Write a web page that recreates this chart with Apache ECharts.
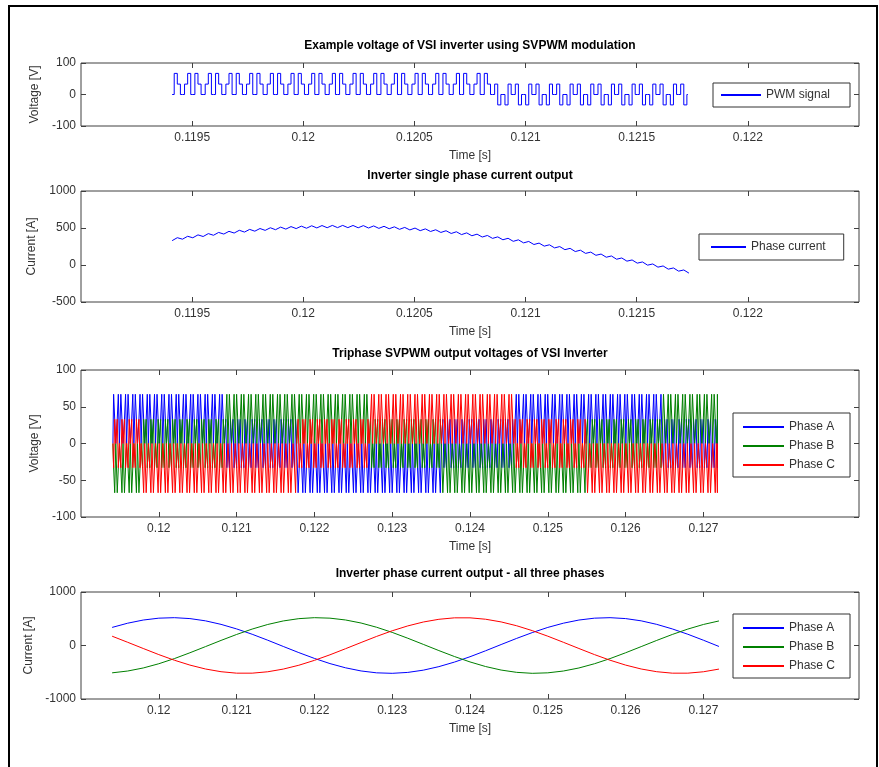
<!DOCTYPE html>
<html>
<head>
<meta charset="utf-8">
<title>SVPWM inverter</title>
<script src="https://cdn.jsdelivr.net/npm/echarts@6.0.0/dist/echarts.min.js"></script>
<style>
  html, body { margin: 0; padding: 0; background: #fff; }
  #main { width: 879px; height: 767px; }
</style>
</head>
<body>
<div id="main"></div>
<script>
// tick labels
var zoomTicks = [0.1195, 0.12, 0.1205, 0.121, 0.1215, 0.122];
var wideTicks = [0.12, 0.121, 0.122, 0.123, 0.124, 0.125, 0.126, 0.127];

// switching: sectors, carrier period off the zoomed plot
var pwmStart = 0.11941;
var pwmPeriod = 0.0000465;
var pwmEnd = 0.12718;
var zoomEnd = 0.12173;
var sectorStarts = [0.11941, 0.11975, 0.12083, 0.12175, 0.12269, 0.12360, 0.12457, 0.12548, 0.12646];
var sectorIds = [6, 1, 2, 3, 4, 5, 6, 1, 2];
// active vectors used in each sector
var sectorVectors = {
  1: ['100', '110'], 2: ['010', '110'], 3: ['010', '011'],
  4: ['001', '011'], 5: ['001', '101'], 6: ['100', '101']
};
// phase voltages A, B, C for each switch state
var vectorLevels = {
  '000': [0, 0, 0], '111': [0, 0, 0],
  '100': [67, -33, -33], '110': [33, 33, -67], '010': [-33, 67, -33],
  '011': [-67, 33, 33], '001': [-33, -33, 67], '101': [33, -67, 33]
};
var slotShare = [0.2, 0.3, 0.3, 0.2];

// single phase current, one value per half carrier period
var currentStart = 0.11941;
var currentStep = 0.00002325;
var phaseCurrent = [
  329, 369, 349, 388, 368, 407, 385, 424, 402, 440, 418, 455, 432, 469, 445, 481,
  457, 493, 468, 503, 477, 512, 485, 519, 492, 525, 497, 530, 501, 533, 504, 535,
  505, 535, 505, 534, 503, 532, 500, 528, 495, 523, 490, 516, 482, 508, 474, 499,
  464, 488, 453, 476, 440, 463, 426, 449, 411, 434, 395, 417, 378, 399, 360, 380,
  341, 361, 320, 340, 299, 318, 277, 296, 255, 273, 231, 249, 207, 225, 182, 200,
  157, 174, 131, 148, 105, 122, 78, 95, 52, 68, 25, 41, -2, 14, -29, -13,
  -56, -40, -83, -67, -110
];

// three phase currents, every 0.2 ms
var triStart = 0.1194;
var triStep = 0.0002;
var currentA = [338, 417, 476, 511, 520, 503, 461, 395, 310, 210, 99, -18, -133, -241,
  -338, -417, -476, -511, -520, -503, -461, -395, -310, -210, -99, 18, 133, 241,
  338, 417, 476, 511, 520, 503, 461, 395, 310, 210, 99, -18];
var currentB = [-511, -477, -420, -341, -245, -136, -21, 95, 206, 307, 393, 459, 502, 520,
  511, 477, 420, 341, 245, 136, 21, -95, -206, -307, -393, -459, -502, -520,
  -511, -477, -420, -341, -245, -136, -21, 95, 206, 307, 393, 459];
var currentC = [174, 60, -56, -170, -275, -366, -439, -490, -517, -517, -491, -441, -369, -278,
  -174, -60, 56, 170, 275, 366, 439, 490, 517, 517, 491, 441, 369, 278,
  174, 60, -56, -170, -275, -366, -439, -490, -517, -517, -491, -441];

(function chart() {
  var myChart = echarts.init(document.getElementById('main'));
  var font = 'Liberation Sans, Arial, sans-serif';
  var boxColor = '#404040';
  var colors = ['#0000ff', '#008000', '#ff0000'];

  // step waveform of one phase, built from the sector table
  function buildPhase(ph, tEnd) {
    var pts = [];
    for (var k = 0; ; k++) {
      var t = pwmStart + k * pwmPeriod;
      if (t >= tEnd - 1e-9) break;
      var s = 0;
      while (s + 1 < sectorStarts.length && sectorStarts[s + 1] <= t) s++;
      var v = sectorVectors[sectorIds[s]];
      var seq = ['000', v[0], v[1], '111'];
      if (k % 2) seq.reverse();
      for (var i = 0; i < 4; i++) {
        var lv = vectorLevels[seq[i]][ph];
        var t1 = Math.min(t + slotShare[i] * pwmPeriod, tEnd);
        pts.push([t, lv], [t1, lv]);
        t = t1;
      }
    }
    return pts;
  }

  function series1d(start, step, vals) {
    return vals.map(function (v, i) { return [start + i * step, v]; });
  }

  var grids = [
    { left: 81, top: 63, width: 778, height: 63 },
    { left: 81, top: 191, width: 778, height: 111 },
    { left: 81, top: 370, width: 778, height: 147 },
    { left: 81, top: 592, width: 778, height: 107 }
  ];
  grids.forEach(function (g) {
    g.show = true;
    g.borderColor = boxColor;
    g.borderWidth = 1;
  });

  var xLabel = function (v) { return String(+v.toFixed(4)); };
  var noLine = { show: false, onZero: false };
  var xAxes = [], yAxes = [];
  var xSpecs = [
    [0.119, 0.1225, zoomTicks], [0.119, 0.1225, zoomTicks],
    [0.119, 0.129, wideTicks], [0.119, 0.129, wideTicks]
  ];
  var ySpecs = [
    [-100, 100, 100, 'Voltage [V]', 40], [-500, 1000, 500, 'Current [A]', 43],
    [-100, 100, 50, 'Voltage [V]', 40], [-1000, 1000, 1000, 'Current [A]', 41]
  ];
  for (var g = 0; g < 4; g++) {
    var xs = xSpecs[g], ys = ySpecs[g];
    xAxes.push({
      type: 'value', gridIndex: g, min: xs[0], max: xs[1], position: 'bottom',
      splitLine: { show: false }, axisLine: noLine,
      axisTick: { inside: true, length: 5, customValues: xs[2], lineStyle: { color: boxColor } },
      axisLabel: { customValues: xs[2], formatter: xLabel, margin: 6, color: '#333', fontSize: 12, fontFamily: font },
      name: 'Time [s]', nameLocation: 'middle', nameGap: 24,
      nameTextStyle: { color: '#333', fontSize: 12, fontFamily: font }
    });
    xAxes.push({
      type: 'value', gridIndex: g, min: xs[0], max: xs[1], position: 'top',
      splitLine: { show: false }, axisLine: noLine, axisLabel: { show: false },
      axisTick: { inside: true, length: 5, customValues: xs[2], lineStyle: { color: boxColor } }
    });
    yAxes.push({
      type: 'value', gridIndex: g, min: ys[0], max: ys[1], interval: ys[2], position: 'left',
      splitLine: { show: false }, axisLine: noLine,
      axisTick: { inside: true, length: 5, lineStyle: { color: boxColor } },
      axisLabel: { formatter: function (v) { return String(v); }, margin: 5, color: '#333', fontSize: 12, fontFamily: font },
      name: ys[3], nameLocation: 'middle', nameGap: ys[4],
      nameTextStyle: { color: '#333', fontSize: 12, fontFamily: font }
    });
    yAxes.push({
      type: 'value', gridIndex: g, min: ys[0], max: ys[1], interval: ys[2], position: 'right',
      splitLine: { show: false }, axisLine: noLine, axisLabel: { show: false },
      axisTick: { inside: true, length: 5, lineStyle: { color: boxColor } }
    });
  }

  var titles = [
    ['Example voltage of VSI inverter using SVPWM modulation', 40],
    ['Inverter single phase current output', 170],
    ['Triphase SVPWM output voltages of VSI Inverter', 348],
    ['Inverter phase current output - all three phases', 568]
  ].map(function (t) {
    return {
      text: t[0], left: 470, top: t[1], textAlign: 'center', padding: 0,
      textStyle: { fontSize: 12, fontWeight: 'bold', color: '#000', fontFamily: font }
    };
  });

  function legend(names, left, top, pad, w, gap) {
    return {
      orient: 'vertical', left: left, top: top, data: names, padding: pad,
      itemWidth: w, itemHeight: 12, itemGap: gap, selectedMode: false,
      itemStyle: { opacity: 0 },
      borderColor: '#333', borderWidth: 1, backgroundColor: '#fff', borderRadius: 0,
      textStyle: { fontSize: 12, color: '#333', fontFamily: font }
    };
  }
  var phases = ['Phase A', 'Phase B', 'Phase C'];

  function line(name, data, g, color) {
    return {
      name: name, type: 'line', data: data, xAxisIndex: 2 * g, yAxisIndex: 2 * g,
      symbol: 'none', showSymbol: false, animation: false,
      lineStyle: { color: color, width: 1 }, itemStyle: { color: color }
    };
  }

  var series = [
    line('PWM signal', buildPhase(0, zoomEnd), 0, colors[0]),
    line('Phase current', series1d(currentStart, currentStep, phaseCurrent), 1, colors[0])
  ];
  for (var p = 0; p < 3; p++) series.push(line(phases[p], buildPhase(p, pwmEnd), 2, colors[p]));
  [currentA, currentB, currentC].forEach(function (c, p) {
    series.push(line(phases[p], series1d(triStart, triStep, c), 3, colors[p]));
  });

  var option = {
    backgroundColor: '#fff',
    animation: false,
    title: titles,
    grid: grids,
    xAxis: xAxes,
    yAxis: yAxes,
    legend: [
      legend(['PWM signal'], 713, 83, [6, 20, 6, 7], 40, 7),
      legend(['Phase current'], 699, 234, [7, 18, 7, 11], 35, 7),
      legend(phases, 733, 413, [8, 15, 6, 9], 41, 7),
      legend(phases, 733, 614, [8, 15, 6, 9], 41, 7)
    ],
    graphic: [{
      type: 'rect', silent: true,
      shape: { x: 9, y: 6, width: 868, height: 775 },
      style: { fill: 'none', stroke: '#000', lineWidth: 2 }
    }],
    series: series
  };
  myChart.setOption(option);
  window.addEventListener('resize', function () {
    myChart.resize();
  });
})();
</script>
</body>
</html>
